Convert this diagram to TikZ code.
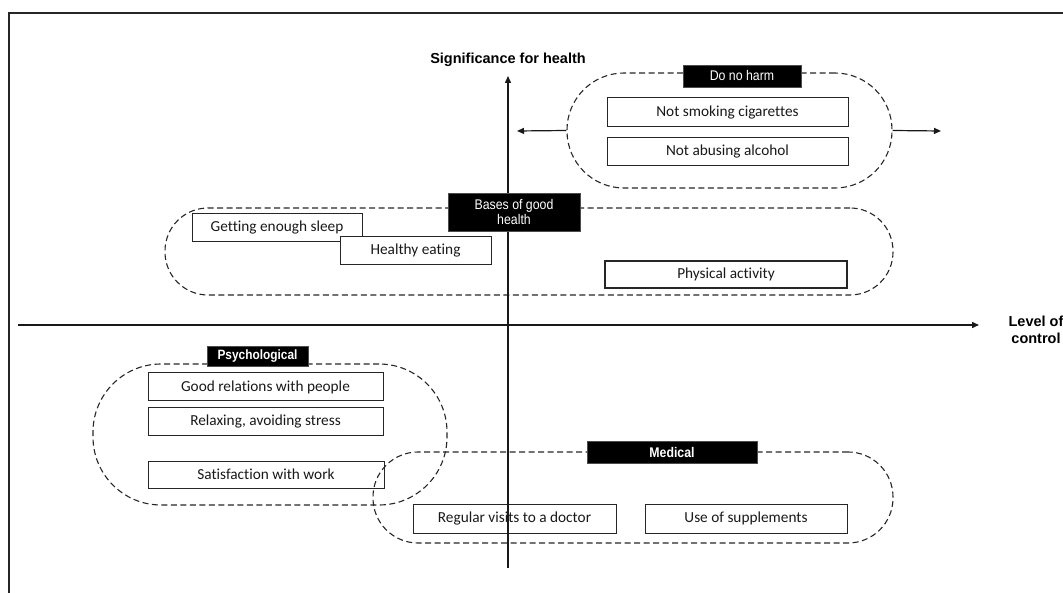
\documentclass[tikz,border=0pt]{standalone}
\usepackage{fontspec}
\setmainfont{Carlito}[Ligatures=NoCommon]
\newfontfamily\arialf{Liberation Sans}
\newfontfamily\narrowf[FakeStretch=0.88]{Liberation Sans}
\usetikzlibrary{arrows.meta}
\tikzset{
  itembox/.style={draw=black!85, line width=1pt, fill=white, inner sep=0pt,
    font=\fontsize{15.3}{18}\selectfont, text=black!90},
  groupbox/.style={draw=black!85, line width=1.1pt, dash pattern=on 6pt off 3.5pt, inner sep=0pt},
  tagbox/.style={fill=black, draw=black!70, inner sep=0pt, text=white, align=center},
  axisline/.style={draw=black!90, line width=1.4pt, -{Triangle[length=7pt,width=6pt]}},
  sidearrow/.style={draw=black!90, line width=1.2pt, -{Triangle[length=7pt,width=6pt]}},
  axislabel/.style={font=\arialf\bfseries\fontsize{14.5}{16.5}\selectfont, align=center, text=black},
}
\begin{document}
\begin{tikzpicture}[x=1pt,y=-1pt]
\useasboundingbox (0,0) rectangle (1063,593);
% frame
\coordinate (fTL) at (9,13);
\coordinate (fTR) at (1063,13);
\coordinate (fBL) at (9,593);
\draw[black!85, line width=2pt] (fBL) -- (fTL) -- (fTR);

% item boxes
\node[itembox, minimum width=241pt, minimum height=29pt] (smoke) at (727.5,112.5) {Not smoking cigarettes};
\node[itembox, minimum width=241pt, minimum height=28pt] (alcohol) at (727.5,152) {Not abusing alcohol};
\node[itembox, minimum width=170pt, minimum height=28pt] (sleep) at (277,228) {Getting enough sleep};
\node[itembox, minimum width=151pt, minimum height=28pt] (eating) at (415.5,251) {Healthy eating};
\node[itembox, line width=2.4pt, minimum width=242pt, minimum height=27pt] (physical) at (726,274.5) {Physical activity};
\node[itembox, minimum width=235pt, minimum height=28pt] (relations) at (265.5,387) {Good relations with people};
\node[itembox, minimum width=235pt, minimum height=27pt] (relaxing) at (265.5,421.5) {Relaxing, avoiding stress};
\node[itembox, minimum width=236pt, minimum height=27pt] (satisf) at (266,474.5) {Satisfaction with work};
\node[itembox, minimum width=203pt, minimum height=29pt] (doctor) at (514.5,518.5) {Regular visits to a doctor};
\node[itembox, minimum width=202pt, minimum height=29pt] (suppl) at (746,518.5) {Use of supplements};

% groups
\node[groupbox, minimum width=325pt, minimum height=115pt, rounded corners=57pt] (gharm) at (729.5,130.5) {};
\node[groupbox, minimum width=728pt, minimum height=87pt, rounded corners=43pt] (gbases) at (529,251.5) {};
\node[groupbox, minimum width=354pt, minimum height=141pt, rounded corners=68pt] (gpsych) at (270,434.5) {};
\node[groupbox, minimum width=520pt, minimum height=91pt, rounded corners=45pt] (gmed) at (633,497.5) {};

% axes
\coordinate (vBot) at (508,568);
\coordinate (vTop) at (508,76);
\coordinate (hLeft) at (18,325);
\coordinate (hRight) at (979,325);
\draw[axisline] (vBot) -- (vTop);
\draw[axisline] (hLeft) -- (hRight);

% tags
\node[tagbox, minimum width=118pt, minimum height=22pt, font=\narrowf\fontsize{14}{15}\selectfont] (tharm) at (742,76) {Do no harm};
\node[tagbox, minimum width=132pt, minimum height=38pt, font=\narrowf\fontsize{14}{15.5}\selectfont] (tbases) at (514,212) {Bases of good\\health};
\node[tagbox, minimum width=101pt, minimum height=20pt, font=\narrowf\bfseries\fontsize{13.5}{15}\selectfont] (tpsych) at (257.5,356) {Psychological};
\node[tagbox, minimum width=170pt, minimum height=22pt, font=\narrowf\bfseries\fontsize{14}{15}\selectfont] (tmed) at (672,452) {Medical};

% side arrows of the "do no harm" group
\coordinate (aLeft) at (517,131);
\coordinate (aRight) at (941,131);
\draw[sidearrow] (gharm.west) -- (aLeft);
\draw[sidearrow] (gharm.east) -- (aRight);

% axis labels
\node[axislabel] (ylab) at (508,60) {Significance for health};
\node[axislabel] (xlab) at (1036,330) {Level of\\control};
\end{tikzpicture}
\end{document}
